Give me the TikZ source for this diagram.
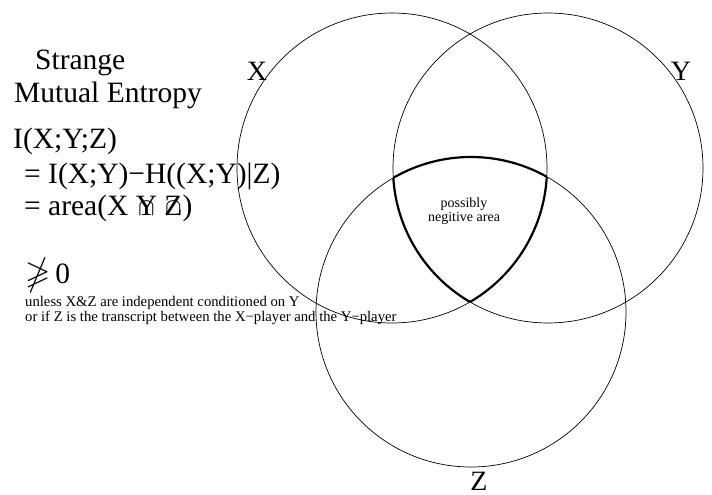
\documentclass[tikz,border=0pt]{standalone}
\usepackage{amssymb}
\usepackage{graphicx}
\usepackage{fontspec}
\setmainfont{Liberation Serif}
\newcommand\capover[1]{\ooalign{#1\cr\hidewidth$\cap$\hidewidth\cr}}

\begin{document}
\begin{tikzpicture}[
  x=1pt, y=-1pt,
  venn/.style={circle, draw=black, line width=0.7pt, minimum size=310pt, inner sep=0pt},
  setlabel/.style={font=\fontsize{28}{34}\selectfont, inner sep=0pt},
  bigtxt/.style={font=\fontsize{29.5}{35}\selectfont, inner sep=0pt, anchor=base west},
  smalltxt/.style={font=\fontsize{14.7}{17}\selectfont, inner sep=0pt, anchor=base west},
  thickarc/.style={line width=2.2pt}
]
\useasboundingbox (0,0) rectangle (712,495);

% --- the three sets ---
\node[venn] (cx) at (392,168) {};
\node[venn] (cy) at (548,168) {};
\node[venn] (cz) at (471,312) {};

\node[setlabel] (lx) at (257,71) {X};
\node[setlabel] (ly) at (681,71) {Y};
\node[setlabel] (lz) at (479,481) {Z};

% --- common part of all three (thick border) ---
\begin{scope}
  \clip (cx.center) circle[radius=155pt];
  \clip (cy.center) circle[radius=155pt];
  \draw[thickarc] (cz.center) circle[radius=155pt];
\end{scope}
\begin{scope}
  \clip (cx.center) circle[radius=155pt];
  \clip (cz.center) circle[radius=155pt];
  \draw[thickarc] (cy.center) circle[radius=155pt];
\end{scope}
\begin{scope}
  \clip (cy.center) circle[radius=155pt];
  \clip (cz.center) circle[radius=155pt];
  \draw[thickarc] (cx.center) circle[radius=155pt];
\end{scope}

\node[font=\fontsize{14}{14}\selectfont, align=center, inner sep=0pt] (neg) at (464,211) {possibly\\negitive area};

% --- text on the left ---
\node[bigtxt] (strange) at (35,70) {Strange};
\node[bigtxt] (mutual) at (14,102) {Mutual Entropy};
\node[bigtxt] (ixyz) at (13,148) {I(X;Y;Z)};
\node[bigtxt] (diff) at (24,183) {= I(X;Y)−H((X;Y)|Z)};
\node[bigtxt] (area) at (24,215) {= area(X \capover{Y} \capover{Z})};
\node[bigtxt] (ngeq) at (25,283) {\scalebox{1.1}{$\ngeqslant$}\,0};
\node[smalltxt] (unless) at (25,306) {unless X\&Z are independent conditioned on Y};
\node[smalltxt] (orif) at (25,321) {or if Z is the transcript between the X−player and the Y−player};

\end{tikzpicture}
\end{document}
